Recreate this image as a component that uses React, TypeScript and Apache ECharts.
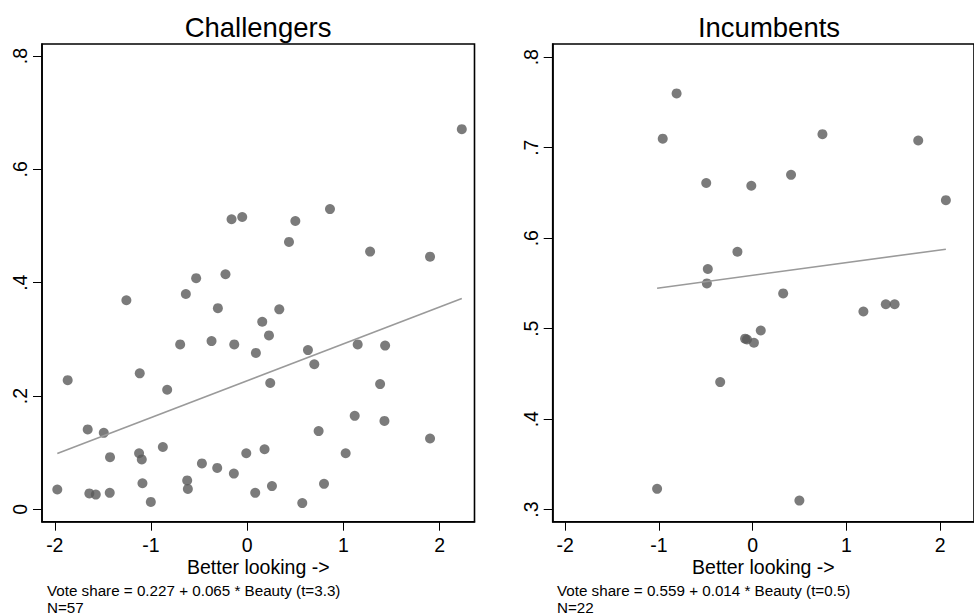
import React, { useEffect, useRef } from "react";
import * as echarts from "echarts";

// Challengers: beauty index (x) and vote share (y)
const challengersX = [
  2.23, -0.163, -0.052, 0.5, 0.86, 0.434, 1.277, 1.9, -0.531, -0.226,
  -1.256, -0.638, -0.305, 0.333, 0.156, 0.226, -0.697, -0.371, -0.135, 0.09,
  0.631, 0.697, 1.148, 1.433, -1.866, -1.117, -0.832, 0.239, 1.381, 1.117,
  1.426, -1.658, -1.491, 0.742, 1.9, -0.877, -1.426, -1.124, -1.096, -0.01,
  0.18, 1.023, -0.471, -0.312, -0.139, -0.624, -0.617, -1.089, -1.974, -1.641,
  -1.574, -1.429, -1.002, 0.083, 0.257, 0.798, 0.572,
];
const challengersY = [
  0.671, 0.512, 0.516, 0.509, 0.53, 0.472, 0.455, 0.446, 0.408, 0.415,
  0.369, 0.38, 0.355, 0.353, 0.331, 0.307, 0.291, 0.297, 0.291, 0.276,
  0.281, 0.256, 0.291, 0.289, 0.228, 0.24, 0.211, 0.223, 0.221, 0.165,
  0.156, 0.141, 0.135, 0.138, 0.125, 0.11, 0.092, 0.099, 0.088, 0.099,
  0.106, 0.099, 0.081, 0.073, 0.063, 0.051, 0.036, 0.046, 0.035, 0.028,
  0.026, 0.029, 0.013, 0.029, 0.041, 0.045, 0.011,
];

// Incumbents
const incumbentsX = [
  -0.811, -0.959, 0.745, 1.767, -0.495, -0.014, 0.41, 2.062, -0.162, -0.478,
  -0.488, 0.326, 1.182, 1.421, 1.515, -0.08, -0.06, 0.014, 0.087, -0.346,
  -1.019, 0.499,
];
const incumbentsY = [
  0.76, 0.71, 0.715, 0.708, 0.661, 0.658, 0.67, 0.642, 0.585, 0.566,
  0.55, 0.539, 0.519, 0.527, 0.527, 0.489, 0.488, 0.4845, 0.498, 0.441,
  0.323, 0.31,
];

// Fitted regression (intercept, slope)
const challengersFit = [0.227, 0.065];
const incumbentsFit = [0.559, 0.014];

const xTicks = [-2, -1, 0, 1, 2];
const yTicksChallengers = [0, 0.2, 0.4, 0.6, 0.8];
const yTicksIncumbents = [0.3, 0.4, 0.5, 0.6, 0.7, 0.8];

const titles = ["Challengers", "Incumbents"];
const xTitle = "Better looking ->";
const notes = [
  ["Vote share = 0.227 + 0.065 * Beauty (t=3.3)", "N=57"],
  ["Vote share = 0.559 + 0.014 * Beauty (t=0.5)", "N=22"],
];

const FONT = "'Liberation Sans', Arial, Helvetica, sans-serif";

function pairs(xs: number[], ys: number[]) {
  return xs.map((x, i) => [x, ys[i]]);
}
function fitLine(xs: number[], fit: number[]) {
  const lo = Math.min(...xs);
  const hi = Math.max(...xs);
  return [
    [lo, fit[0] + fit[1] * lo],
    [hi, fit[0] + fit[1] * hi],
  ];
}
const fmt = (v: number) => (v === 0 ? "0" : String(v).replace(/^(-?)0\./, "$1."));

export default function App() {
  const ref = useRef<HTMLDivElement>(null);
  useEffect(() => {
    if (!ref.current) return;
    const chart = echarts.init(ref.current, undefined, { renderer: "svg" });
    const gridBase = {
      top: 44,
      width: 432.5,
      height: 477.7,
      show: true,
      borderColor: "#000",
      borderWidth: 1.6,
      containLabel: false,
    };
    const xAxisBase = (gridIndex: number) => ({
      type: "value",
      gridIndex,
      min: -2.133,
      max: 2.362,
      name: xTitle,
      nameLocation: "middle",
      nameGap: 35,
      nameMoveOverlap: false,
      nameTextStyle: { color: "#000", fontSize: 19.5, lineHeight: 20, fontFamily: FONT },
      axisLine: { show: true, onZero: false, lineStyle: { color: "#000", width: 1.6 } },
      axisTick: { show: true, length: 9, customValues: xTicks, lineStyle: { color: "#000", width: 1 } },
      axisLabel: {
        customValues: xTicks,
        margin: 13,
        color: "#000",
        fontSize: 19.5,
        lineHeight: 20,
        fontFamily: FONT,
        formatter: (v: number) => fmt(v),
      },
      splitLine: { show: false },
    });
    const yAxisBase = (gridIndex: number, min: number, max: number, ticks: number[]) => ({
      type: "value",
      gridIndex,
      min,
      max,
      axisLine: { show: true, onZero: false, lineStyle: { color: "#000", width: 1.6 } },
      axisTick: { show: true, length: 9, customValues: ticks, lineStyle: { color: "#000", width: 1 } },
      axisLabel: {
        customValues: ticks,
        rotate: 90,
        margin: 12,
        color: "#000",
        fontSize: 19.5,
        fontFamily: FONT,
        formatter: (v: number) => fmt(v),
      },
      splitLine: { show: false },
    });
    const scatterStyle = {
      type: "scatter",
      symbol: "circle",
      symbolSize: 10,
      itemStyle: { color: "#5a5a5a" },
      z: 2,
    };
    const lineStyle = {
      type: "line",
      symbol: "none",
      lineStyle: { color: "#9a9a9a", width: 1.6 },
      z: 3,
    };
    const textEls: any[] = [];
    const centers = [258, 769];
    const noteX = [47, 557];
    [0, 1].forEach((i) => {
      textEls.push({
        type: "text",
        x: centers[i],
        y: 27,
        style: {
          text: titles[i],
          fontSize: 27.5,
          fontFamily: FONT,
          fill: "#000",
          align: "center",
          verticalAlign: "middle",
        },
      });
      notes[i].forEach((t, j) => {
        textEls.push({
          type: "text",
          x: noteX[i],
          y: 590.5 + j * 17,
          style: {
            text: t,
            fontSize: 15.2,
            fontFamily: FONT,
            fill: "#000",
            align: "left",
            verticalAlign: "middle",
          },
        });
      });
    });
    chart.setOption({
      animation: false,
      backgroundColor: "#fff",
      grid: [
        { ...gridBase, left: 42 },
        { ...gridBase, left: 552.7 },
      ],
      xAxis: [xAxisBase(0), xAxisBase(1)],
      yAxis: [
        yAxisBase(0, -0.0219, 0.8214, yTicksChallengers),
        yAxisBase(1, 0.2867, 0.8146, yTicksIncumbents),
      ],
      series: [
        { ...scatterStyle, xAxisIndex: 0, yAxisIndex: 0, data: pairs(challengersX, challengersY) },
        { ...lineStyle, xAxisIndex: 0, yAxisIndex: 0, data: fitLine(challengersX, challengersFit) },
        { ...scatterStyle, xAxisIndex: 1, yAxisIndex: 1, data: pairs(incumbentsX, incumbentsY) },
        { ...lineStyle, xAxisIndex: 1, yAxisIndex: 1, data: fitLine(incumbentsX, incumbentsFit) },
      ],
      graphic: textEls,
    });
    return () => chart.dispose();
  }, []);
  return (
    <div
      ref={ref}
      style={{ position: "fixed", left: 0, top: 0, width: 974, height: 615, overflow: "hidden" }}
    />
  );
}
